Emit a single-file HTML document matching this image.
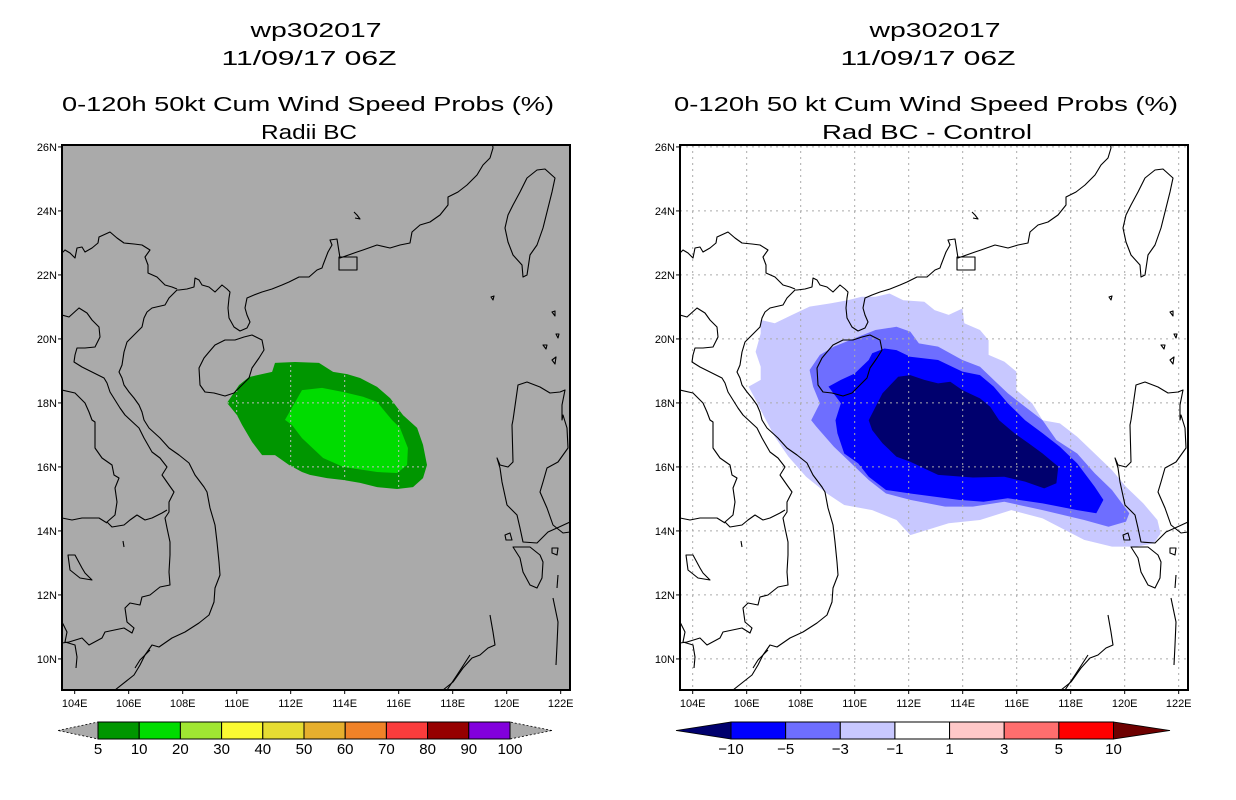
<!DOCTYPE html>
<html><head><meta charset="utf-8"><style>
html,body{margin:0;padding:0;background:#fff;}
svg{display:block;font-family:"Liberation Sans",sans-serif;}
</style></head><body>
<svg id="root" width="1236" height="800" viewBox="0 0 1236 800" xmlns="http://www.w3.org/2000/svg">
<defs>
<clipPath id="clipL"><rect x="62" y="145" width="508" height="545"/></clipPath>
<clipPath id="clipR"><rect x="680" y="145" width="508" height="545"/></clipPath>
<g id="coast" fill="none" stroke="#000" stroke-width="1.1" stroke-linejoin="round">
<polyline points="62,253 65,250 70,253 75,258 77,248 82,247 85,252 92,248 98,243 99,237 110,232 117,238 124,243 134,244 142,245 150,250 145,257 148,265 148,273 157,277 165,285 172,287 177,289"/>
<polyline points="177,290 179,290 187,289 194,287 195,278 199,280 202,285 209,287 215,292 222,285 227,289 230,292 229,298 228,308 229,318 234,327 240,331 247,328 250,322 247,315 245,308 247,298 254,295 262,292 272,289 282,285 289,282 299,277 309,277 317,270 322,268 323,265 328,252 332,245 330,240 337,239 340,258 357,252 363,250 377,245 390,248 400,245 410,243 412,232 420,225 430,222 440,215 448,205 448,197 458,192 467,185 477,175 483,165 490,158 493,148 492,140"/>
<rect x="339" y="257" width="18" height="13"/>
<polyline points="354,212 357,215 360,219 355,218"/>
<polygon points="537,170 545,169 555,178 552,192 548,208 543,228 537,245 530,255 527,275 523,277 522,265 513,255 508,242 505,228 508,215 513,205 520,192 527,178"/>
<polygon points="215,345 225,340 235,340 244,337 252,335 262,340 264,350 259,358 252,368 249,378 242,385 234,393 225,396 214,393 205,392 200,385 199,368 204,358 209,352"/>
<polyline points="177,290 169,298 165,305 152,308 147,312 144,318 142,327 132,337 127,342 124,352 122,365 119,372 122,378 124,385 129,392 134,398 139,405 142,412 144,420 149,428 160,438 169,448 179,455 189,463 195,475 204,487 207,492 210,508 215,525 217,542 219,562 220,575 215,588 214,602 209,615 199,623 185,632 172,638 159,647 152,645 145,655 140,665 134,675 115,690 105,695"/>
<polyline points="62,315 69,317 79,308 87,313 92,320 99,327 100,337 95,347 85,348 77,348 75,355 74,362 82,367 92,372 104,378 107,383 110,392 115,400 120,408 125,415 139,428 144,438 152,452 160,458 167,467 162,475 169,485 174,492 169,502 169,512 165,518 167,528 170,542 170,555 169,572 170,585 160,587 150,595 142,597 140,605 130,603 125,608 127,622 134,628 132,633 124,628 105,632 102,638 89,645 82,638 69,642 62,643"/>
<polyline points="62,390 75,393 85,403 89,412 92,420 95,422 95,448 102,458 112,465 114,475 119,478 115,488 117,502 115,515 107,522 112,527 124,525 130,520 137,515 145,520 152,518 162,513 167,510"/>
<polyline points="62,518 72,520 82,518 99,518 107,523"/>
<polygon points="68,555 75,555 82,568 85,573 92,580 80,578 70,570"/>
<polyline points="62,622 67,632 65,642 75,645 77,657 76,668"/>
<polyline points="150,650 140,660 135,668 M128,660 120,672"/>
<polyline points="513,420 518,385 527,382 540,387 550,393 560,392 565,390 562,405 562,420 563,415 567,428 568,448 558,462 547,468 543,482 540,492 547,508 553,525 563,533 570,532"/>
<polyline points="513,420 512,425 513,462 508,467 500,465 497,458 500,468 502,482 507,505 517,515 520,528 523,542 537,543 548,532 557,528 570,522"/>
<polygon points="513,547 530,547 540,555 543,562 542,578 537,588 530,585 523,572 520,558"/>
<polyline points="490,615 493,632 495,645 488,648 480,655 472,658 463,668 453,682 443,690"/>
<polyline points="470,655 457,675 447,690"/>
<polyline points="553,598 558,622 557,645 556,665"/>
<polyline points="558,575 557,588"/>
<polygon points="552,548 558,548 557,555 552,553"/>
<polygon points="505,535 510,533 512,540 506,540"/>
<polygon points="552,312 555,311 555,316"/>
<polygon points="556,334 559,334 558,338"/>
<polygon points="543,345 547,345 546,349"/>
<polygon points="552,360 556,357 555,364"/>
<polygon points="491,297 494,296 493,300"/>
<polyline points="123,541 124,547 M128,553 126,560"/>
</g>
</defs>

<!-- LEFT PANEL -->
<g>
<text x="316" y="37" font-size="20" text-anchor="middle" textLength="131" lengthAdjust="spacingAndGlyphs">wp302017</text>
<text x="309" y="65" font-size="20" text-anchor="middle" textLength="175" lengthAdjust="spacingAndGlyphs">11/09/17 06Z</text>
<text x="308" y="111" font-size="20" text-anchor="middle" textLength="492" lengthAdjust="spacingAndGlyphs">0-120h 50kt Cum Wind Speed Probs (%)</text>
<text x="309" y="139" font-size="20" text-anchor="middle" textLength="96" lengthAdjust="spacingAndGlyphs">Radii BC</text>
<rect x="62" y="145" width="508" height="545" fill="#aaaaaa"/>
<g id="shadeL" clip-path="url(#clipL)"></g>
<g clip-path="url(#clipL)"><use href="#coast"/></g>
<rect x="62" y="145" width="508" height="545" fill="none" stroke="#000" stroke-width="2"/>
<g id="axesL"></g>
<g id="cbarL"></g>
</g>

<!-- RIGHT PANEL -->
<g>
<text x="935" y="37" font-size="20" text-anchor="middle" textLength="131" lengthAdjust="spacingAndGlyphs">wp302017</text>
<text x="928" y="65" font-size="20" text-anchor="middle" textLength="175" lengthAdjust="spacingAndGlyphs">11/09/17 06Z</text>
<text x="926" y="111" font-size="20" text-anchor="middle" textLength="504" lengthAdjust="spacingAndGlyphs">0-120h 50 kt Cum Wind Speed Probs (%)</text>
<text x="927" y="139" font-size="20" text-anchor="middle" textLength="210" lengthAdjust="spacingAndGlyphs">Rad BC - Control</text>
<rect x="680" y="145" width="508" height="545" fill="#ffffff"/>
<g id="shadeR" clip-path="url(#clipR)"></g>
<g id="gridR" clip-path="url(#clipR)"></g>
<g clip-path="url(#clipR)"><use href="#coast" transform="translate(618,0)"/></g>
<rect x="680" y="145" width="508" height="545" fill="none" stroke="#000" stroke-width="2"/>
<g id="axesR"></g>
<g id="cbarR"></g>
</g>
</svg>
<script>
const NS = "http://www.w3.org/2000/svg";
// axis data
const lonTicks = [104,106,108,110,112,114,116,118,120,122];
const latTicks = [10,12,14,16,18,20,22,24,26];
// left colorbar data
const leftLevels = ["5","10","20","30","40","50","60","70","80","90","100"];
const leftColors = ["#009600","#00dc00","#a0e632","#fafa32","#e6dc32","#e6af2d","#f08228","#fa3c3c","#960000","#8200dc"];
// right colorbar data
const rightLevels = ["-10","-5","-3","-1","1","3","5","10"];
const rightColors = ["#0000ff","#6e6eff","#c8c8ff","#ffffff","#ffc8c8","#ff6e6e","#ff0000"];
const rightEnds = ["#00006e","#6e0000"];
// left panel contour data (lon, lat)
const probGE5 = [[109.64,18.00],[110.09,18.56],[110.46,18.81],[111.31,18.97],[111.42,19.25],[112.16,19.28],[113.05,19.25],[113.57,18.97],[114.09,18.90],[114.57,18.78],[115.20,18.50],[115.68,18.15],[116.16,17.62],[116.68,17.22],[116.90,16.69],[117.05,16.06],[116.90,15.65],[116.53,15.37],[115.94,15.31],[115.20,15.37],[114.57,15.50],[113.94,15.59],[113.34,15.65],[112.71,15.75],[112.42,15.84],[111.94,16.06],[111.42,16.37],[110.94,16.37],[110.57,16.78],[110.20,17.31],[110.01,17.62]];
const probGE10 = [[111.79,17.47],[112.42,18.40],[113.16,18.47],[113.94,18.34],[114.68,18.19],[115.20,18.03],[115.75,17.47],[116.05,17.22],[116.34,16.59],[116.31,16.06],[115.94,15.81],[115.20,15.84],[113.94,16.00],[113.20,16.28],[112.42,16.90],[112.05,17.31]];
// right panel contour data (lon, lat)
const diffLEm1 = [[106.52,20.59],[107.04,20.49],[107.68,20.75],[108.33,21.01],[109.10,21.11],[109.74,21.21],[110.26,21.32],[110.77,21.32],[111.29,21.42],[111.80,21.21],[112.58,21.16],[112.96,20.90],[113.48,20.75],[113.99,20.95],[114.06,20.49],[114.64,20.28],[114.96,19.96],[114.96,19.50],[115.54,19.29],[115.99,18.98],[115.99,18.40],[116.57,17.99],[116.96,17.46],[117.6,17.36],[118.24,16.94],[118.89,16.42],[119.53,15.90],[120.05,15.38],[120.69,14.86],[121.21,14.34],[121.33,13.92],[121.08,13.61],[120.43,13.51],[119.53,13.51],[118.50,13.72],[116.96,14.39],[115.80,14.65],[114.64,14.34],[113.48,14.24],[112.06,13.87],[111.55,14.34],[110.65,14.65],[109.61,14.81],[108.97,15.17],[108.20,15.69],[107.55,16.32],[107.04,16.94],[106.65,17.57],[106.27,18.19],[106.07,18.51],[106.52,18.72],[106.52,19.13],[106.33,19.60],[106.52,20.17]];
const diffLEm3 = [[108.33,19.03],[108.71,19.50],[109.23,19.76],[110.00,20.02],[110.77,20.28],[111.55,20.38],[112.06,20.23],[112.38,19.86],[113.09,19.76],[113.99,19.34],[114.64,19.13],[115.15,18.72],[115.67,18.30],[116.31,17.88],[116.96,17.46],[117.47,16.84],[118.24,16.42],[118.89,15.80],[119.53,15.28],[120.17,14.55],[120.05,14.29],[119.40,14.13],[118.50,14.34],[116.96,14.65],[115.54,14.91],[114.38,14.76],[113.35,14.76],[112.06,14.97],[111.16,15.17],[110.52,15.59],[110.00,16.01],[109.23,16.63],[108.58,17.26],[108.39,17.46],[108.71,17.99],[108.46,18.51]];
const diffLEm5 = [[109.03,18.51],[109.49,18.72],[110.00,18.92],[110.52,19.34],[110.65,19.55],[111.10,19.70],[111.55,19.65],[112.06,19.44],[113.09,19.34],[113.99,18.98],[114.64,18.87],[115.15,18.51],[115.67,17.99],[116.31,17.46],[116.96,17.05],[117.6,16.63],[118.24,16.11],[118.89,15.38],[119.21,14.97],[118.95,14.55],[118.24,14.65],[116.96,14.86],[115.67,15.02],[114.77,14.91],[113.86,14.97],[112.06,15.17],[111.16,15.28],[110.52,15.69],[110.13,16.11],[109.61,16.42],[109.36,17.05],[109.29,17.46],[109.49,17.99]];
const diffLEm10 = [[110.52,17.46],[111.03,18.30],[111.61,18.82],[112.06,18.87],[112.58,18.72],[113.09,18.61],[113.54,18.66],[113.99,18.40],[114.64,18.14],[115.02,17.88],[115.35,17.46],[115.92,17.05],[116.44,16.74],[116.96,16.42],[117.54,16.01],[117.47,15.49],[117.02,15.33],[116.31,15.54],[115.54,15.69],[114.38,15.67],[113.09,15.75],[112.71,15.90],[112.06,16.16],[111.55,16.32],[111.03,16.74],[110.65,17.15]];

// axis functions
const LON0 = 103.53, PXLON = 27, LAT0 = 26.06, PXLAT = 32;
function xL(lon){ return 62 + (lon - LON0) * PXLON; }
function xR(lon){ return 680 + (lon - LON0) * PXLON; }
function yM(lat){ return 145 + (LAT0 - lat) * PXLAT; }

function mk(tag, attrs, parent){
  const e = document.createElementNS(NS, tag);
  for (const k in attrs) e.setAttribute(k, attrs[k]);
  parent.appendChild(e);
  return e;
}
function poly(data, xf){ return data.map(p => xf(p[0]).toFixed(1) + "," + yM(p[1]).toFixed(1)).join(" "); }

// Left shading
const shL = document.getElementById("shadeL");
let p = mk("polygon", {points: poly(probGE5, xL), fill: "#009600"}, shL);


p = mk("polygon", {points: poly(probGE10, xL), fill: "#00dc00"}, shL);


// grid clipped to shaded area (GrADS style)
const cp = mk("clipPath", {id: "clipGreen"}, document.querySelector("defs"));
mk("polygon", {points: poly(probGE5, xL)}, cp);
const gL = mk("g", {"clip-path": "url(#clipGreen)", stroke: "#bbbbbb", "stroke-width": "1", "stroke-dasharray": "2,3"}, shL);


lonTicks.forEach(l => mk("line", {x1: xL(l), x2: xL(l), y1: 145, y2: 690}, gL));
latTicks.forEach(l => mk("line", {x1: 62, x2: 570, y1: yM(l), y2: yM(l)}, gL));

// Right shading
const shR = document.getElementById("shadeR");
[[diffLEm1, "#c8c8ff", "diff-minus1-region"], [diffLEm3, "#6e6eff", "diff-minus3-region"], [diffLEm5, "#0000ff", "diff-minus5-region"], [diffLEm10, "#00006e", "diff-minus10-region"]].forEach(d => {
  const q = mk("polygon", {points: poly(d[0], xR), fill: d[1]}, shR);
  
  
});
const gR = document.getElementById("gridR");
lonTicks.forEach(l => {
  const ln = mk("line", {x1: xR(l), x2: xR(l), y1: 145, y2: 690, stroke: "#aaaaaa", "stroke-width": "1", "stroke-dasharray": "2,4"}, gR);
  
  
});
latTicks.forEach(l => {
  const ln = mk("line", {x1: 680, x2: 1188, y1: yM(l), y2: yM(l), stroke: "#aaaaaa", "stroke-width": "1", "stroke-dasharray": "2,4"}, gR);
  
  
});

// Axes
function axes(gid, xf, x0, x1){
  const g = document.getElementById(gid);
  lonTicks.forEach(l => {
    const x = xf(l);
    mk("line", {x1: x, x2: x, y1: 690, y2: 694, stroke: "#000"}, g);
    const t = mk("text", {x: x, y: 707, "font-size": "11", "text-anchor": "middle"}, g);
    t.textContent = l + "E";
    
    
  });
  latTicks.forEach(l => {
    const y = yM(l);
    mk("line", {x1: x0 - 4, x2: x0, y1: y, y2: y, stroke: "#000"}, g);
    const t = mk("text", {x: x0 - 5, y: y + 4, "font-size": "11", "text-anchor": "end"}, g);
    t.textContent = l + "N";
    
    
  });
}
axes("axesL", xL, 62, 570);
axes("axesR", xR, 680, 1188);

// Colorbars
function cbar(gid, colors, levels, bx0, bx1, tx0, tx1, endL, endR, name){
  const g = document.getElementById(gid);
  const y0 = 722, y1 = 739, ym = (y0 + y1) / 2;
  const w = (bx1 - bx0) / colors.length;
  const tl = mk("polygon", {points: `${tx0},${ym} ${bx0},${y0} ${bx0},${y1}`, fill: endL, stroke: "#000", "stroke-width": "0.8", "stroke-dasharray": endL === "#aaaaaa" ? "2,2" : "none"}, g);
  
  
  const tr = mk("polygon", {points: `${tx1},${ym} ${bx1},${y0} ${bx1},${y1}`, fill: endR, stroke: "#000", "stroke-width": "0.8", "stroke-dasharray": endR === "#aaaaaa" ? "2,2" : "none"}, g);
  
  
  colors.forEach((c, i) => {
    const r = mk("rect", {x: bx0 + i * w, y: y0, width: w, height: y1 - y0, fill: c, stroke: "#000", "stroke-width": "1"}, g);
    
    
  });
  const step = (bx1 - bx0) / (levels.length - 1);
  levels.forEach((lv, i) => {
    const t = mk("text", {x: bx0 + i * step, y: 754, "font-size": "15", "text-anchor": "middle"}, g);
    t.textContent = lv.replace("-", "\u2212");
    
    
  });
}
cbar("cbarL", leftColors, leftLevels, 98, 510, 58, 552, "#aaaaaa", "#aaaaaa", "left-colorbar");
cbar("cbarR", rightColors, rightLevels, 731, 1113.5, 676, 1170, rightEnds[0], rightEnds[1], "right-colorbar");
</script>
</body></html>
